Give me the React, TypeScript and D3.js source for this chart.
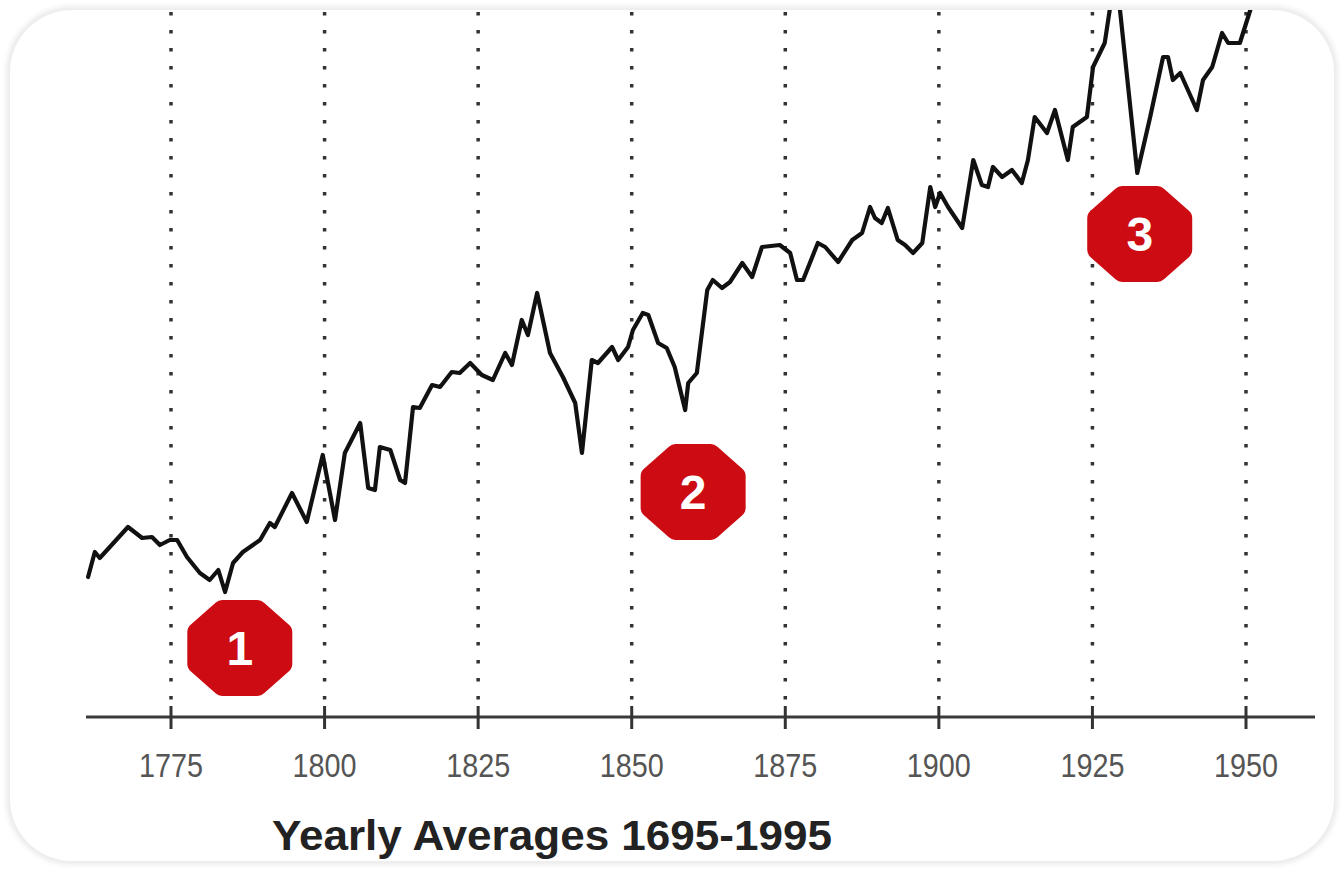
import React from "react";
import * as d3 from "d3";

// ---- data ----
const years: number[] = [
  1761.5, 1762.6, 1763.4, 1764.3, 1768.0, 1770.3, 1771.9, 1773.2, 1774.8, 1776.0,
  1777.6, 1779.7, 1781.3, 1782.7, 1783.8, 1785.1, 1786.7, 1789.5, 1791.1, 1791.9,
  1794.7, 1797.1, 1799.7, 1801.7, 1803.3, 1805.8, 1807.1, 1808.2, 1809.0, 1810.7,
  1812.3, 1813.1, 1814.4, 1815.5, 1817.5, 1818.8, 1820.7, 1822.0, 1823.7, 1825.6,
  1827.4, 1829.4, 1830.5, 1832.1, 1833.1, 1834.6, 1836.7, 1838.8, 1840.8, 1841.9,
  1843.5, 1844.5, 1846.8, 1847.8, 1849.4, 1850.2, 1851.8, 1852.7, 1854.3, 1855.7,
  1857.0, 1858.7, 1859.2, 1860.6, 1862.3, 1863.2, 1864.7, 1866.0, 1868.0, 1869.6,
  1871.2, 1874.1, 1875.8, 1876.9, 1877.9, 1880.3, 1881.5, 1883.6, 1885.9, 1887.5,
  1888.8, 1889.6, 1890.7, 1891.7, 1893.3, 1894.5, 1895.8, 1897.3, 1898.6, 1899.4,
  1900.2, 1901.5, 1903.8, 1905.6, 1907.0, 1908.0, 1908.8, 1910.3, 1911.9, 1913.5,
  1914.5, 1915.6, 1917.6, 1918.9, 1921.0, 1921.8, 1924.1, 1925.1, 1927.0, 1928.8,
  1932.3, 1934.4, 1936.5, 1937.3, 1938.1, 1939.3, 1942.0, 1943.0, 1944.5, 1946.1,
  1947.1, 1949.0, 1950.7, 1951.6,
];
const averages: number[] = [
  139, 164, 158, 164, 189, 178, 179, 171, 176, 176,
  159, 143, 136, 146, 124, 153, 164, 176, 193, 189,
  223, 194, 261, 196, 263, 293, 228, 226, 269, 266,
  236, 233, 309, 308, 331, 329, 344, 343, 353, 341,
  336, 363, 351, 396, 381, 423, 363, 339, 313, 263,
  356, 353, 369, 356, 369, 386, 403, 401, 373, 368,
  349, 306, 333, 343, 426, 436, 428, 434, 453, 439,
  469, 471, 463, 436, 436, 473, 469, 454, 476, 483,
  509, 498, 493, 508, 476, 471, 463, 473, 529, 509,
  523, 509, 488, 556, 531, 529, 549, 539, 546, 533,
  556, 599, 583, 606, 556, 589, 599, 649, 673, 746,
  543, 599, 659, 659, 636, 643, 606, 636, 649, 683,
  673, 673, 706, 726,
];
const tickYears: number[] = [1775, 1800, 1825, 1850, 1875, 1900, 1925, 1950];
const markerYears: number[] = [1786.2, 1860, 1932.7];
const markerValues: number[] = [68, 224, 482];
const markerLabels: string[] = ["1", "2", "3"];
const title = "Yearly Averages 1695-1995";

const W = 1344;
const H = 871;

export default function App() {
  const x = d3.scaleLinear().domain([1775, 1950]).range([171, 1246]);
  const y = d3.scaleLinear().domain([0, 706]).range([716, 10]);
  const axisY = 717;

  const pts: [number, number][] = years.map((yr, i) => [yr, averages[i]]);
  const linePath = d3
    .line<[number, number]>()
    .x((d) => x(d[0]))
    .y((d) => y(d[1]))(pts) as string;

  // rounded octagon badge shape
  const octagon = (cx: number, cy: number, rx: number, ry: number) => {
    const p: [number, number][] = d3.range(8).map((k) => {
      const a = Math.PI / 8 + (k * Math.PI) / 4;
      return [cx + rx * Math.cos(a), cy + ry * Math.sin(a)];
    });
    return d3.line().curve(d3.curveLinearClosed)(p) as string;
  };

  return (
    <svg
      width={W}
      height={H}
      style={{ position: "absolute", left: 0, top: 0, background: "#fff" }}
      fontFamily="'Liberation Sans', Arial, sans-serif"
    >
      <defs>
        <clipPath id="plotclip">
          <rect x={10} y={10} width={1324} height={850} />
        </clipPath>
        <filter id="soft" x="-5%" y="-5%" width="110%" height="110%">
          <feGaussianBlur stdDeviation="3" />
        </filter>
      </defs>

      {/* card */}
      <rect x={10} y={10} width={1324} height={851} rx={62} ry={62}
        fill="none" stroke="#d8d8d8" strokeWidth={4} filter="url(#soft)" />
      <rect x={10} y={10} width={1324} height={851} rx={62} ry={62} fill="#fff" />

      <g clipPath="url(#plotclip)">
        {/* dotted vertical grid lines */}
        {tickYears.map((t) => (
          <line key={"g" + t} x1={x(t)} x2={x(t)} y1={12} y2={706}
            stroke="#333" strokeWidth={3.5} strokeDasharray="3.5 14.5" />
        ))}

        {/* series */}
        <path d={linePath} fill="none" stroke="#111" strokeWidth={4.2}
          strokeLinejoin="round" strokeLinecap="round" />
      </g>

      {/* axis */}
      <line x1={86} x2={1315} y1={axisY} y2={axisY} stroke="#3a3a3a" strokeWidth={3} />
      {tickYears.map((t) => (
        <g key={"t" + t}>
          <line x1={x(t)} x2={x(t)} y1={706} y2={729} stroke="#333" strokeWidth={3} />
          <text x={x(t)} y={777} textAnchor="middle" fontSize={33} fill="#555"
            textLength={64} lengthAdjust="spacingAndGlyphs">{t}</text>
        </g>
      ))}

      {/* badges */}
      {markerYears.map((yr, i) => {
        const cx = x(yr);
        const cy = y(markerValues[i]);
        return (
          <g key={"m" + i}>
            <path d={octagon(cx, cy, 46, 41)} fill="#cc0c12" stroke="#cc0c12"
              strokeWidth={20} strokeLinejoin="round" />
            <text x={cx} y={cy + 17} textAnchor="middle" fontSize={48}
              fontWeight="bold" fill="#fff">{markerLabels[i]}</text>
          </g>
        );
      })}

      {/* title */}
      <text x={272} y={850} fontSize={42} fontWeight="bold" fill="#222"
        textLength={560} lengthAdjust="spacingAndGlyphs">{title}</text>
    </svg>
  );
}
